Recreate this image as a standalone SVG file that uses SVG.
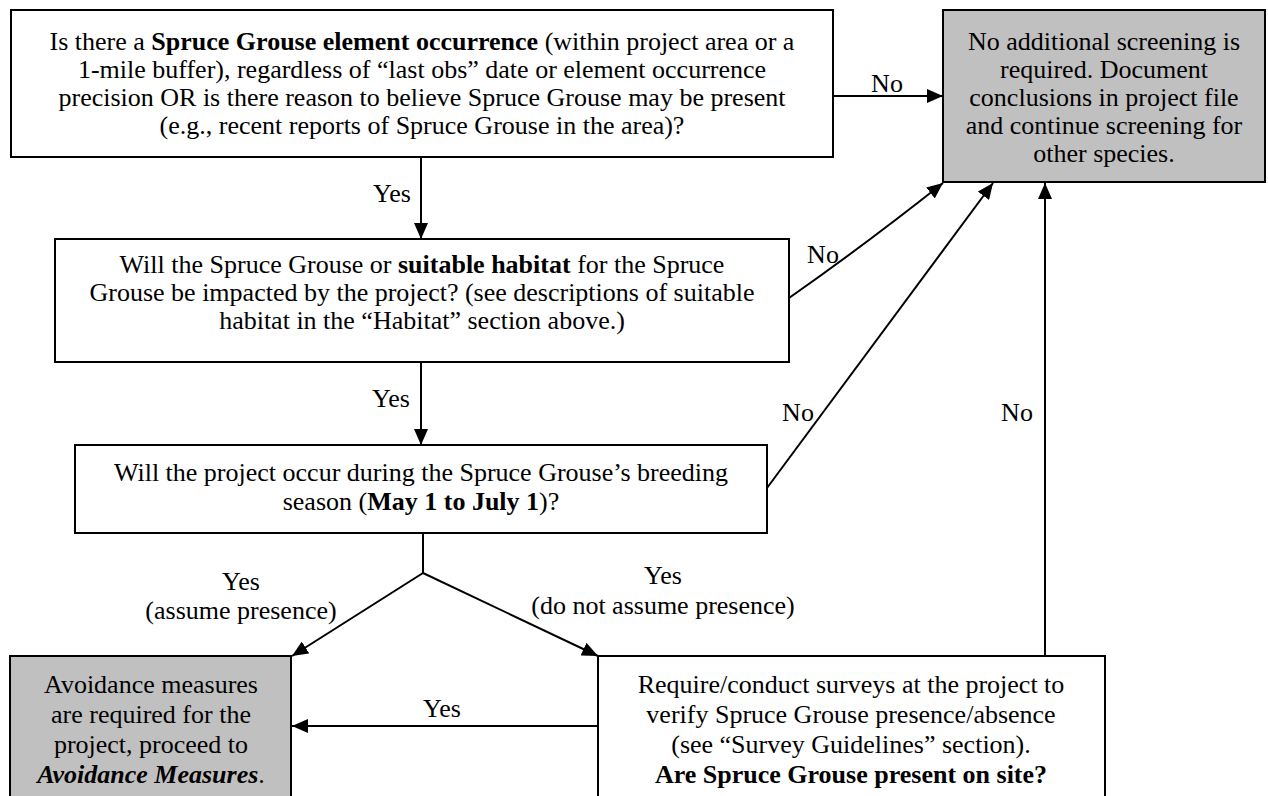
<svg xmlns="http://www.w3.org/2000/svg" width="1268" height="796" viewBox="0 0 1268 796" font-family="'Liberation Serif', 'Times New Roman', serif" font-size="26">
<defs>
<style>
.box{fill:#ffffff;stroke:#000000;stroke-width:2}
.gray{fill:#c0c0c0;stroke:#000000;stroke-width:2}
text{font-family:'Liberation Serif','Times New Roman',serif;font-size:26px;fill:#000000}
.c{text-anchor:middle}
.b{font-weight:bold}
.bi{font-weight:bold;font-style:italic}
.ln{fill:none;stroke:#000000;stroke-width:2}
</style>
<marker id="ah" markerUnits="userSpaceOnUse" markerWidth="16" markerHeight="14" refX="16" refY="7" orient="auto">
<path d="M0,0 L16,7 L0,14 z" fill="#000000"/>
</marker>
</defs>
<rect width="1268" height="796" fill="#ffffff"/>

<g id="connectors">
<path class="ln" d="M833,96 H943" marker-end="url(#ah)"/>
<path class="ln" d="M421,157 V239" marker-end="url(#ah)"/>
<path class="ln" d="M789,298 Q862,247 943,183" marker-end="url(#ah)"/>
<path class="ln" d="M421,362 V445" marker-end="url(#ah)"/>
<path class="ln" d="M767,488 L993,183" marker-end="url(#ah)"/>
<path class="ln" d="M1045,657 V183" marker-end="url(#ah)"/>
<path class="ln" d="M423,533 V573"/>
<path class="ln" d="M423,573 L292,656" marker-end="url(#ah)"/>
<path class="ln" d="M423,573 L598,656" marker-end="url(#ah)"/>
<path class="ln" d="M598,726 H292" marker-end="url(#ah)"/>
<text class="c" x="887" y="92">No</text>
<text class="c" x="392" y="202">Yes</text>
<text class="c" x="823" y="263">No</text>
<text class="c" x="391" y="407">Yes</text>
<text class="c" x="798" y="421">No</text>
<text class="c" x="1017" y="421">No</text>
<text class="c" x="241" y="590">Yes</text>
<text class="c" x="241" y="619">(assume presence)</text>
<text class="c" x="663" y="584">Yes</text>
<text class="c" x="663" y="614">(do not assume presence)</text>
<text class="c" x="442" y="717">Yes</text>
</g>

<g id="q1">
<rect class="box" x="11" y="10" width="822" height="147"/>
<text class="c" x="422" y="50">Is there a <tspan class="b">Spruce Grouse element occurrence</tspan> (within project area or a</text>
<text class="c" x="422" y="78">1-mile buffer), regardless of “last obs” date or element occurrence</text>
<text class="c" x="422" y="106">precision OR is there reason to believe Spruce Grouse may be present</text>
<text class="c" x="422" y="134">(e.g., recent reports of Spruce Grouse in the area)?</text>
</g>

<g id="end-no">
<rect class="gray" x="943" y="10" width="322" height="172"/>
<text class="c" x="1104" y="50">No additional screening is</text>
<text class="c" x="1104" y="78">required. Document</text>
<text class="c" x="1104" y="106">conclusions in project file</text>
<text class="c" x="1104" y="134">and continue screening for</text>
<text class="c" x="1104" y="162">other species.</text>
</g>

<g id="q2">
<rect class="box" x="55" y="239" width="734" height="123"/>
<text class="c" x="422" y="273">Will the Spruce Grouse or <tspan class="b">suitable habitat</tspan> for the Spruce</text>
<text class="c" x="422" y="301">Grouse be impacted by the project? (see descriptions of suitable</text>
<text class="c" x="422" y="329">habitat in the “Habitat” section above.)</text>
</g>

<g id="q3">
<rect class="box" x="75" y="445" width="692" height="88"/>
<text class="c" x="421" y="481">Will the project occur during the Spruce Grouse’s breeding</text>
<text class="c" x="421" y="510">season (<tspan class="b">May 1 to July 1</tspan>)?</text>
</g>

<g id="avoid">
<rect class="gray" x="10" y="656" width="281" height="150"/>
<text class="c" x="151" y="693">Avoidance measures</text>
<text class="c" x="151" y="723">are required for the</text>
<text class="c" x="151" y="753">project, proceed to</text>
<text class="c" x="151" y="783"><tspan class="bi">Avoidance Measures</tspan>.</text>
</g>

<g id="survey">
<rect class="box" x="598" y="656" width="507" height="150"/>
<text class="c" x="851" y="693">Require/conduct surveys at the project to</text>
<text class="c" x="851" y="723">verify Spruce Grouse presence/absence</text>
<text class="c" x="851" y="753">(see “Survey Guidelines” section).</text>
<text class="c b" x="851" y="783">Are Spruce Grouse present on site?</text>
</g>
</svg>
